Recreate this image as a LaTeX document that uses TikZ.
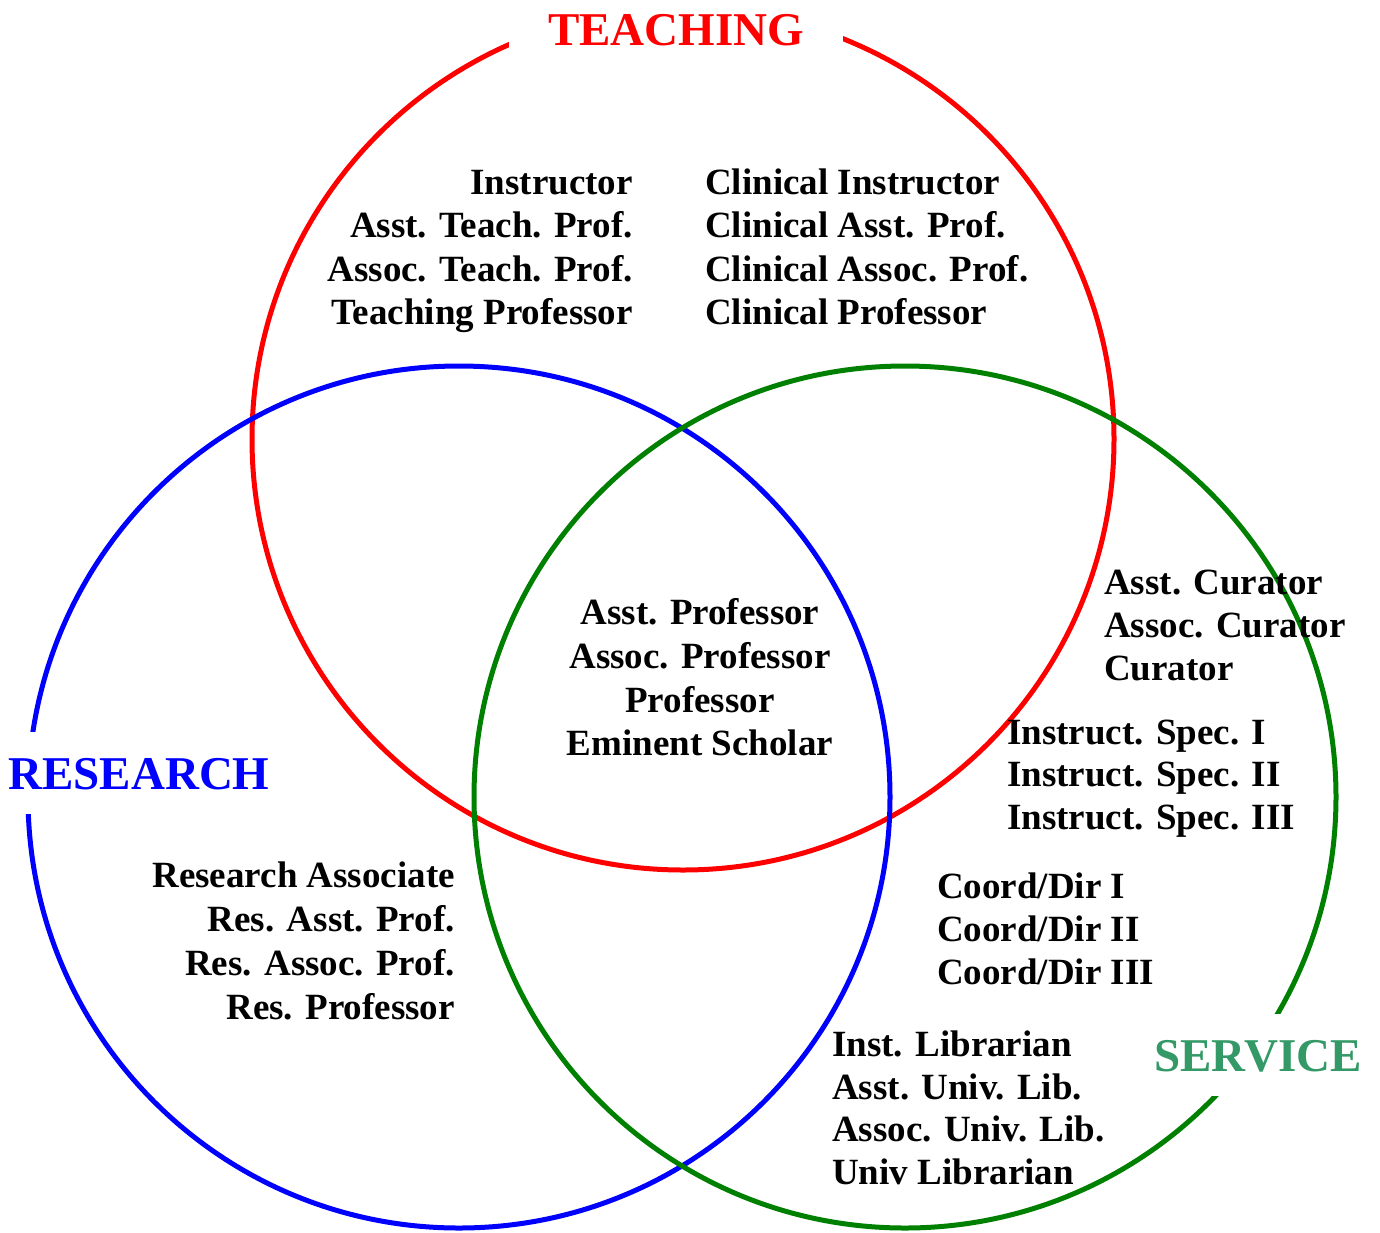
\documentclass[tikz,border=0pt]{standalone}
\usepackage{fontspec}
\setmainfont{Liberation Serif}
\definecolor{servgreen}{RGB}{51,153,102}
\definecolor{ringgreen}{RGB}{0,128,0}
\begin{document}
\begin{tikzpicture}[x=1pt,y=-1pt,
  body/.style={font=\bfseries\fontsize{37}{43}\selectfont, inner sep=0pt},
  title/.style={font=\bfseries\fontsize{47}{56}\selectfont, fill=white,
    text height=32pt, text depth=0pt, inner xsep=39pt, inner ysep=25pt, anchor=base},
  ring/.style={line width=5pt}]
\useasboundingbox (0,0) rectangle (1380,1232);
\fill[white] (0,0) rectangle (1380,1232);
% circles
\draw[ring, red] (683,439) circle[radius=431pt];
\draw[ring, blue] (459,797) circle[radius=431pt];
\draw[ring, ringgreen] (905,797) circle[radius=431pt];
% titles
\node[title, text=red] (teachT) at (676,45) {TEACHING};
\node[title, text=blue] (resT) at (139,789) {RESEARCH};
\node[title, text=servgreen] (servT) at (1258,1071) {SERVICE};
% teaching only
\foreach \t [count=\i] in {Instructor, Asst. Teach. Prof., Assoc. Teach. Prof., Teaching Professor}
  \node[body, anchor=base east] (teach\i) at (633,{194.5+43.4*(\i-1)}) {\t};
\foreach \t [count=\i] in {Clinical Instructor, Clinical Asst. Prof., Clinical Assoc. Prof., Clinical Professor}
  \node[body, anchor=base west] (clin\i) at (705,{194.5+43.4*(\i-1)}) {\t};
% center
\foreach \t [count=\i] in {Asst. Professor, Assoc. Professor, Professor, Eminent Scholar}
  \node[body, anchor=base] (prof\i) at (700,{624.5+43.8*(\i-1)}) {\t};
% curator
\foreach \t [count=\i] in {Asst. Curator, Assoc. Curator, Curator}
  \node[body, anchor=base west] (cur\i) at (1104,{594.5+43*(\i-1)}) {\t};
% instructional specialists
\foreach \t [count=\i] in {Instruct. Spec. I, Instruct. Spec. II, Instruct. Spec. III}
  \node[body, anchor=base west] (spec\i) at (1007,{744+42.5*(\i-1)}) {\t};
% coordinators
\foreach \t [count=\i] in {Coord/Dir I, Coord/Dir II, Coord/Dir III}
  \node[body, anchor=base west] (coord\i) at (937,{898+43*(\i-1)}) {\t};
% librarians
\foreach \t [count=\i] in {Inst. Librarian, Asst. Univ. Lib., Assoc. Univ. Lib., Univ Librarian}
  \node[body, anchor=base west] (lib\i) at (832,{1056.5+42.7*(\i-1)}) {\t};
% research
\foreach \t [count=\i] in {Research Associate, Res. Asst. Prof., Res. Assoc. Prof., Res. Professor}
  \node[body, anchor=base east] (res\i) at (455,{887.5+44*(\i-1)}) {\t};
\end{tikzpicture}
\end{document}
